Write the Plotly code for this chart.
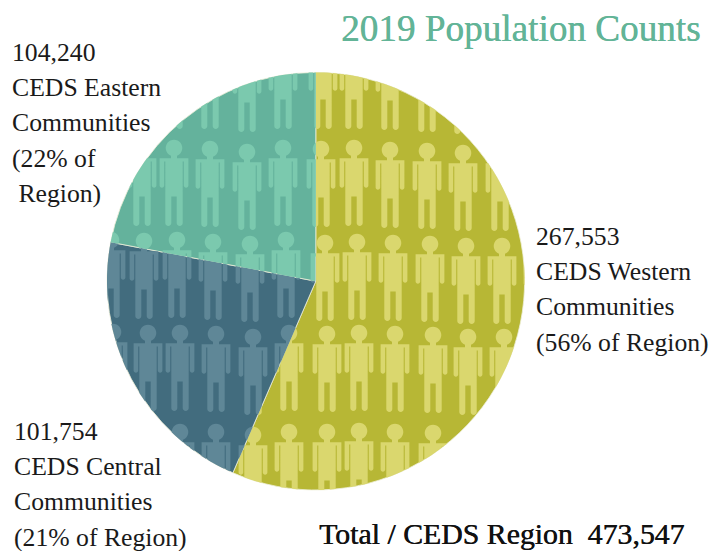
import math
import plotly.graph_objects as go

WIDTH, HEIGHT = 722, 551

# Regional population counts
regions = ["CEDS Western Communities", "CEDS Central Communities", "CEDS Eastern Communities"]
population = [267553, 101754, 104240]
region_colors = ["#B7B735", "#426C7E", "#64B29C"]
figure_colors = ["#DAD76E", "#5F8797", "#7BC9AE"]

title_text = "2019 Population Counts"
total_text = "Total / CEDS Region  473,547"
label_lines = [
    ["104,240", "CEDS Eastern", "Communities", "(22% of", " Region)"],
    ["267,553", "CEDS Western", "Communities", "(56% of Region)"],
    ["101,754", "CEDS Central", "Communities", "(21% of Region)"],
]
label_anchors = [(10, 52.5), (534, 236.5), (12, 431.5)]
LINE_STEP = 35.2

# Pie placement in page pixels
CX, CY, R = 315.8, 281.2, 208.8

# Head centres of the pictogram people, row by row
people = [
    (174, 51), (210, 51), (247, 54), (283, 51), (323, 51), (354, 51), (390, 52), (427, 54), (463, 56),
    (142, 148), (174, 148), (210, 149), (247, 152), (283, 148), (321, 149), (354, 148), (390, 150),
    (427, 151), (463, 153), (500, 153),
    (111, 240), (144, 241), (177, 240), (213, 242), (250, 244), (286, 240), (325, 243), (357, 242),
    (393, 243), (430, 244), (466, 246), (502, 246), (538, 246),
    (113, 332), (148, 333), (180, 333), (216, 334), (253, 337), (289, 333), (327, 334), (359, 333),
    (395, 334), (433, 335), (468, 337), (504, 337),
    (148, 432), (180, 432), (216, 432), (253, 435), (289, 432), (327, 432), (359, 431), (395, 432),
    (433, 433), (468, 436),
]


def rect(x0, y0, x1, y1):
    return [(x0, y0), (x1, y0), (x1, y1), (x0, y1)]


def capsule(xc, y0, y1, half):
    """Vertical bar with a rounded lower end."""
    pts = [(xc - half, y0), (xc + half, y0)]
    for i in range(9):
        a = math.pi * i / 8
        pts.append((xc + half * math.cos(a), y1 + half * math.sin(a)))
    return pts


def person_parts(x, y):
    """Convex outline pieces of one standing figure, head centre at (x, y)."""
    head = [(x + 8.3 * math.cos(2 * math.pi * i / 28), y + 8.3 * math.sin(2 * math.pi * i / 28)) for i in range(28)]
    return [
        head,
        rect(x - 3, y + 5, x + 3, y + 12),
        rect(x - 14.4, y + 10.3, x + 14.4, y + 13.5),
        rect(x - 8.7, y + 10.3, x + 8.7, y + 48.5),
        capsule(x - 12.1, y + 11, y + 37.4, 2.3),
        capsule(x + 12.1, y + 11, y + 37.4, 2.3),
        capsule(x - 5.7, y + 45, y + 75, 3.0),
        capsule(x + 5.7, y + 45, y + 75, 3.0),
    ]


def clip_polygon(subject, clipper):
    """Sutherland-Hodgman clip of a polygon against a convex clockwise (screen) polygon."""
    out = subject
    n = len(clipper)
    for i in range(n):
        ax, ay = clipper[i]
        bx, by = clipper[(i + 1) % n]
        if not out:
            return []
        side = lambda p: (bx - ax) * (p[1] - ay) - (by - ay) * (p[0] - ax)
        kept = []
        for j in range(len(out)):
            p, q = out[j], out[(j + 1) % len(out)]
            sp, sq = side(p), side(q)
            if sp >= 0:
                kept.append(p)
            if (sp >= 0) != (sq >= 0):
                t = sp / (sp - sq)
                kept.append((p[0] + t * (q[0] - p[0]), p[1] + t * (q[1] - p[1])))
        out = kept
    return out


def wedge(a0, a1):
    """Convex sector polygon; angles run clockwise from 12 o'clock, in radians."""
    steps = max(2, int((a1 - a0) / 0.02))
    arc = [a0 + (a1 - a0) * i / steps for i in range(steps + 1)]
    return [(CX, CY)] + [(CX + R * math.sin(a), CY - R * math.cos(a)) for a in arc]


def to_paper(p):
    return p[0] / WIDTH, 1 - p[1] / HEIGHT


def path_of(polys):
    chunks = []
    for poly in polys:
        pts = [to_paper(p) for p in poly]
        chunks.append("M" + "L".join(f"{x:.5f},{y:.5f}" for x, y in pts) + "Z")
    return "".join(chunks)


fig = go.Figure(
    go.Pie(
        labels=regions,
        values=population,
        sort=False,
        direction="clockwise",
        rotation=0,
        textinfo="none",
        hoverinfo="label+value",
        showlegend=False,
        marker=dict(colors=region_colors, line=dict(color="#EDEFD8", width=0.8)),
        domain=dict(x=[(CX - R) / WIDTH, (CX + R) / WIDTH], y=[1 - (CY + R) / HEIGHT, 1 - (CY - R) / HEIGHT]),
    )
)

# Pictogram people, cut to each slice and tinted with that slice's figure colour
total = sum(population)
shapes = []
start = 0.0
for value, tint in zip(population, figure_colors):
    end = start + 2 * math.pi * value / total
    pieces = []
    a = start
    while a < end - 1e-9:
        b = min(a + math.pi / 2, end)
        pieces.append(wedge(a, b))
        a = b
    polys = []
    for x, y in people:
        for part in person_parts(x, y):
            for piece in pieces:
                clipped = clip_polygon(part, piece)
                if len(clipped) >= 3:
                    polys.append(clipped)
    shapes.append(dict(type="path", xref="paper", yref="paper", path=path_of(polys), fillrule="nonzero",
                       fillcolor=tint, line=dict(width=0), layer="above"))
    start = end

serif = "Liberation Serif"
annotations = []


def put_text(text, x, y, size, color, anchor="left", shadow=None):
    font = dict(family=serif, size=size, color=color)
    if shadow:
        font["shadow"] = shadow
    annotations.append(dict(text=text, x=x / WIDTH, y=1 - y / HEIGHT, xref="paper", yref="paper",
                            xanchor=anchor, yanchor="middle", showarrow=False, font=font))


for lines, (lx, ly) in zip(label_lines, label_anchors):
    for i, line in enumerate(lines):
        put_text(line.replace(" ", "&nbsp;", 1) if line.startswith(" ") else line, lx, ly + i * LINE_STEP, 25.7, "#1A1A1A")

put_text(title_text, 702.5, 29, 37.2, "#62B497", "right", shadow="0.4px 0 0 #62B497")
put_text(total_text.replace("  ", "&nbsp;&nbsp;"), 317, 533, 29.8, "#111111", shadow="0.5px 0 0 #111111")

fig.update_layout(
    width=WIDTH,
    height=HEIGHT,
    autosize=False,
    margin=dict(l=0, r=0, t=0, b=0),
    paper_bgcolor="white",
    plot_bgcolor="white",
    shapes=shapes,
    annotations=annotations,
)

fig.write_html("out.html")
